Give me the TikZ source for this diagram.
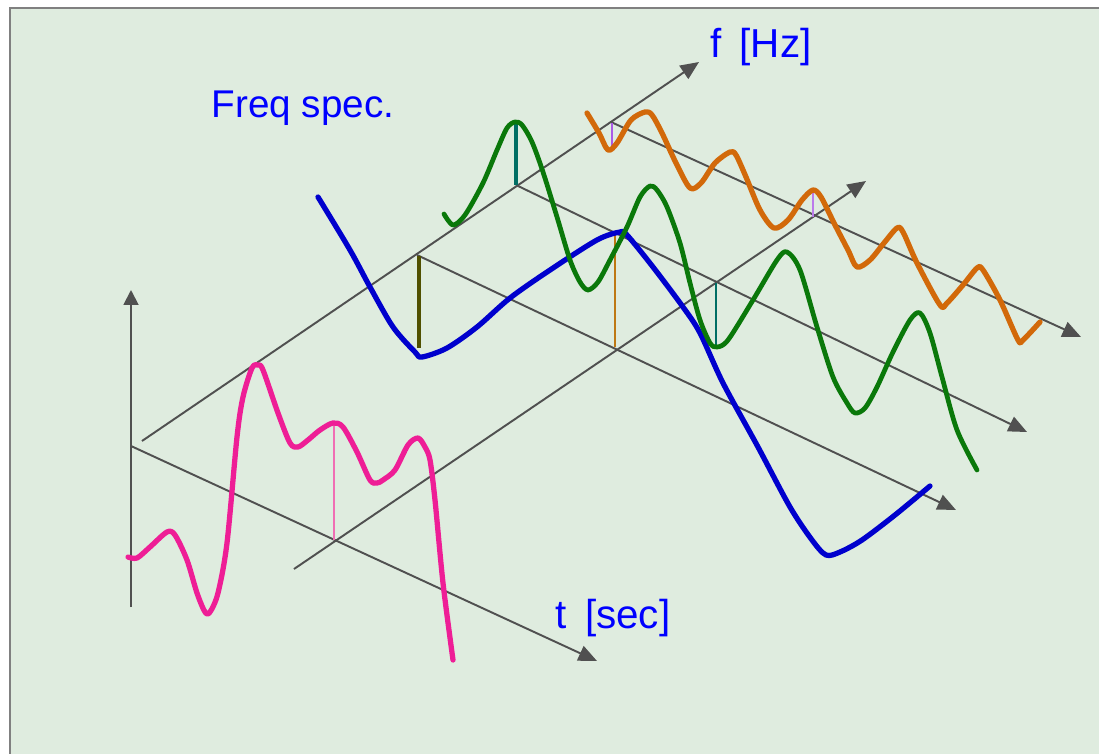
\documentclass[tikz,border=0pt]{standalone}
\usepackage{fontspec}
\setmainfont{Liberation Sans}
\usepackage{xcolor}
\usetikzlibrary{arrows.meta}
\definecolor{bgpane}{RGB}{223,236,223}
\definecolor{framegray}{RGB}{128,128,128}
\definecolor{axgray}{RGB}{80,80,80}
\definecolor{pinkw}{RGB}{238,30,150}
\definecolor{pinks}{RGB}{240,110,180}
\definecolor{bluew}{RGB}{0,0,205}
\definecolor{greenw}{RGB}{10,120,10}
\definecolor{orangew}{RGB}{210,105,10}
\definecolor{olives}{RGB}{80,80,0}
\definecolor{teals}{RGB}{0,110,100}
\definecolor{browns}{RGB}{190,120,20}
\definecolor{violets}{RGB}{170,90,230}

\begin{document}
\begin{tikzpicture}[x=0.02cm,y=-0.02cm,font=\fontsize{23}{27}\selectfont,
  ax/.style={draw=axgray,line width=1.1pt,-{Triangle[length=10.5pt,width=9pt]}},
  wave/.style={line width=3pt,line join=round,line cap=round},
  stem/.style={line width=#1},
  lbl/.style={text=blue,anchor=base,inner sep=0pt}]
\useasboundingbox (0,0) rectangle (1099,754);
\fill[white] (0,0) rectangle (1099,754);
\fill[bgpane] (10,8) rectangle (1099,754);
\draw[framegray,line width=1.1pt] (10,754) -- (10,8) -- (1099,8);
% axes and grid
\coordinate (v0) at (131,607); \coordinate (v1) at (131,290);
\coordinate (t0) at (131,446); \coordinate (t1) at (597,661);
\coordinate (f0) at (142,441); \coordinate (f1) at (699,62);
\coordinate (g0) at (294,569); \coordinate (g1) at (866,181);
\coordinate (a0) at (417,255); \coordinate (a1) at (956,510);
\coordinate (b0) at (516,185); \coordinate (b1) at (1027,432);
\coordinate (c0) at (611,122); \coordinate (c1) at (1081,337);
\draw[ax,-{Triangle[length=8.5pt,width=8.5pt]}] (v0)--(v1);
\draw[ax] (t0)--(t1); \draw[ax] (f0)--(f1); \draw[ax] (g0)--(g1);
\draw[ax] (a0)--(a1); \draw[ax] (b0)--(b1); \draw[ax] (c0)--(c1);
% stems
\draw[pinks,stem=1.1pt] (334,540)--(334,424);
\draw[olives,stem=2.3pt] (419,256)--(419,348);
\draw[teals,stem=2.3pt] (516,185)--(516,121);
\draw[browns,stem=1.4pt] (615,347)--(615,233);
\draw[teals,stem=1.4pt] (716,283)--(716,348);
\draw[violets,stem=1.4pt] (612,123)--(612,150);
\draw[violets!80,stem=1.4pt] (813,217)--(813,188);
% waves
\draw[wave,pinkw] plot[smooth,tension=0.5] coordinates {(128,557) (137,558) (150,547) (167,532) (175,535) (187,560) (197,593) (205,612) (210,612) (218,593) (227,543) (237,437) (243,397) (252,368) (258,365) (263,370) (278,413) (290,443) (298,447) (308,440) (320,430) (333,423) (343,427) (357,452) (370,480) (377,483) (383,480) (395,470) (408,445) (418,438) (425,447) (430,460) (435,500) (443,583) (453,660)};
\draw[wave,bluew] plot[smooth,tension=0.5] coordinates {(318,197) (350,250) (370,287) (393,327) (415,352) (422,357) (447,348) (477,327) (510,298) (550,270) (597,240) (620,232) (627,235) (653,267) (683,307) (700,333) (723,383) (758,447) (790,507) (812,540) (826,555) (840,552) (862,540) (895,515) (930,486)};
\draw[wave,greenw,line width=2.7pt] plot[smooth,tension=0.5] coordinates {(444,214) (453,225) (465,215) (483,183) (497,150) (507,128) (515,122) (522,125) (532,142) (543,172) (557,217) (570,260) (580,282) (588,290) (598,282) (610,260) (627,227) (640,197) (650,186) (657,190) (667,207) (680,243) (690,283) (700,320) (710,343) (717,347) (728,340) (753,300) (777,260) (787,252) (800,270) (817,327) (833,377) (847,403) (855,413) (865,408) (877,387) (893,352) (910,320) (920,313) (930,333) (942,377) (957,430) (977,470)};
\draw[wave,orangew] plot[smooth,tension=0.5] coordinates {(587,113) (599,133) (608,150) (617,143) (631,120) (645,112) (652,115) (662,133) (676,163) (690,188) (701,183) (715,163) (730,152) (736,155) (746,177) (760,210) (774,228) (788,220) (802,200) (813,190) (821,197) (834,223) (848,250) (857,267) (870,260) (884,243) (897,228) (903,232) (917,263) (940,305) (947,303) (963,285) (977,268) (983,270) (1000,300) (1018,340) (1023,340) (1040,322)};
% labels
\node[lbl,font=\fontsize{22}{26}\selectfont] (fs) at (303,117) {Freq spec.};
\node[lbl] (fl) at (761,57) {f\hspace{0.45em}[Hz]};
\node[lbl] (tl) at (613,628) {t\hspace{0.45em}[sec]};
\end{tikzpicture}
\end{document}
